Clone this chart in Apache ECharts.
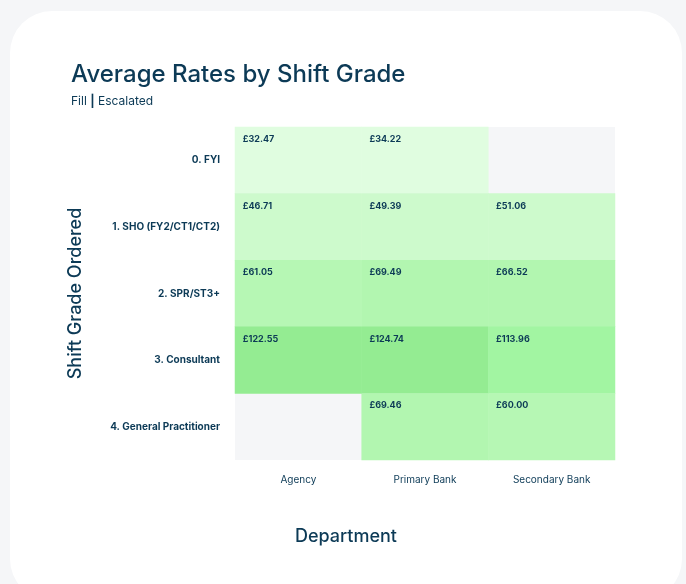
<!DOCTYPE html>
<html>
<head>
<meta charset="utf-8">
<script src="https://cdn.jsdelivr.net/npm/echarts@6/dist/echarts.min.js"></script>
<style>
  html, body { margin: 0; padding: 0; width: 686px; height: 584px; background: #f5f6f8; overflow: hidden; }
  #card { position: absolute; left: 10px; top: 11px; width: 672px; height: 590px; background: #fff; border-radius: 42px; }
  #chart { position: absolute; left: 0; top: 0; width: 686px; height: 584px; }
</style>
</head>
<body>
<div id="card"></div>
<div id="chart"></div>
<script>
// 数据
const departments = ['Agency', 'Primary Bank', 'Secondary Bank'];
const grades = ['0. FYI', '1. SHO (FY2/CT1/CT2)', '2. SPR/ST3+', '3. Consultant', '4. General Practitioner'];
// 每个部门按级别的平均费率，null 表示无数据
const agencyRates = [32.47, 46.71, 61.05, 122.55, null];
const primaryRates = [34.22, 49.39, 69.49, 124.74, 69.46];
const secondaryRates = [null, 51.06, 66.52, 113.96, 60.00];

const textColor = '#0c3a56';
const fontFamily = 'Inter, "Open Sans", sans-serif';

// 组装热力图数据
const heatData = [];
[agencyRates, primaryRates, secondaryRates].forEach((rates, x) => {
  rates.forEach((v, y) => {
    if (v !== null) heatData.push([x, y, v]);
  });
});

const chart = echarts.init(document.getElementById('chart'));

const option = {
  textStyle: { fontFamily: fontFamily },
  title: {
    text: 'Average Rates by Shift Grade',
    subtext: 'Fill {b||} Escalated',
    left: 66,
    top: 58,
    itemGap: 8,
    textStyle: { fontSize: 24, fontWeight: 500, color: textColor, fontFamily: fontFamily },
    subtextStyle: {
      fontSize: 12, color: textColor, fontFamily: fontFamily,
      rich: { b: { fontSize: 12, fontWeight: 'bold', color: textColor, fontFamily: fontFamily } }
    }
  },
  grid: {
    left: 235, right: 71, top: 127, bottom: 124,
    show: true, backgroundColor: '#f5f6f8', borderWidth: 0
  },
  xAxis: {
    type: 'category',
    data: departments,
    name: 'Department',
    nameLocation: 'middle',
    nameGap: 68,
    nameTextStyle: { fontSize: 18, fontWeight: 500, color: textColor, padding: [0, 0, 0, -158] },
    axisLine: { show: false },
    axisTick: { show: false },
    splitArea: { show: false },
    axisLabel: { fontSize: 10, color: textColor, margin: 15 }
  },
  yAxis: {
    type: 'category',
    data: grades,
    inverse: true,
    name: 'Shift Grade Ordered',
    nameLocation: 'middle',
    nameGap: 150,
    nameTextStyle: { fontSize: 18, fontWeight: 500, color: textColor },
    axisLine: { show: false },
    axisTick: { show: false },
    axisLabel: { fontSize: 10, fontWeight: 'bold', color: textColor, margin: 15 }
  },
  visualMap: {
    show: false,
    type: 'piecewise',
    dimension: 2,
    pieces: [
      { min: 0, max: 40, color: '#e0fde0' },
      { min: 40, max: 55, color: '#cdfacc' },
      { min: 55, max: 65, color: '#b6f7b4' },
      { min: 65, max: 100, color: '#b2f6b0' },
      { min: 100, max: 118, color: '#a2f5a2' },
      { min: 118, max: 200, color: '#94ec92' }
    ]
  },
  series: [{
    type: 'heatmap',
    data: heatData,
    itemStyle: { borderWidth: 0 },
    label: {
      show: true,
      position: 'insideTopLeft',
      distance: 8,
      fontSize: 9,
      fontWeight: 'bold',
      color: textColor,
      formatter: p => '£' + p.value[2].toFixed(2)
    },
    emphasis: { disabled: true }
  }]
};

chart.setOption(option);
</script>
</body>
</html>
